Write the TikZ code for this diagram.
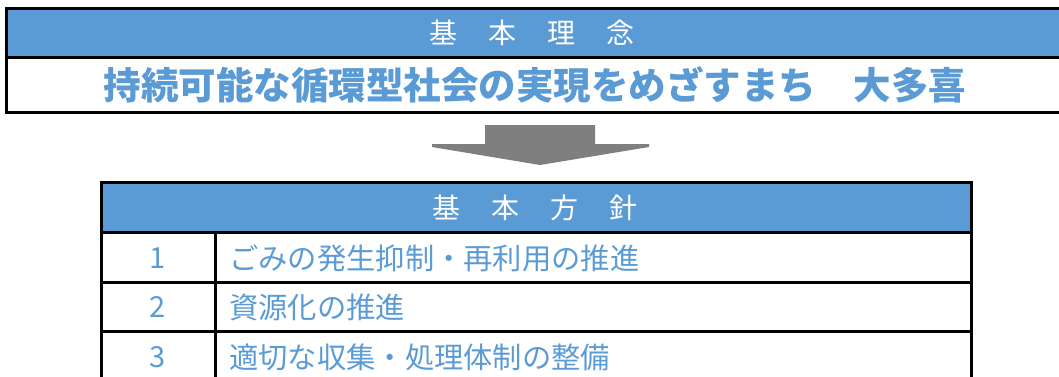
\documentclass[tikz,border=0pt]{standalone}
\usepackage{fontspec}
\setmainfont{Noto Sans CJK JP}
\newfontfamily\jpfont{Noto Sans CJK JP}
\definecolor{hdrblue}{HTML}{5B9BD5}
\definecolor{txtblue}{HTML}{5B9BD5}
\definecolor{arrgray}{HTML}{7F7F7F}
\begin{document}
\begin{tikzpicture}[x=1pt,y=-1pt,
  frame/.style={line width=3pt,draw=black},
  hdrtext/.style={text=white,inner sep=0pt,font=\jpfont\fontsize{28}{30}\selectfont},
  titletext/.style={text=txtblue,inner sep=0pt,font=\jpfont\bfseries\fontsize{37.5}{40}\selectfont},
  rowtext/.style={text=txtblue,inner sep=0pt,anchor=west,font=\jpfont\fontsize{29.3}{32}\selectfont},
  numtext/.style={text=txtblue,inner sep=0pt,font=\jpfont\fontsize{29}{32}\selectfont}]
\useasboundingbox (0,0) rectangle (1059,376);
% top box
\fill[hdrblue] (6,8) rectangle (1100,57);
\draw[frame] (6,8) rectangle (1100,112);
\draw[frame] (6,57) -- (1100,57);
\node[hdrtext] (h1) at (532,33) {基\hspace{31pt}本\hspace{31pt}理\hspace{31pt}念};
\node[titletext] (title) at (535,85) {持続可能な循環型社会の実現をめざすまち　大多喜};
% arrow
\fill[arrgray] (485,125) -- (595,125) -- (595,144) -- (649,144) -- (649,147) -- (540,165) -- (432,147) -- (432,144) -- (485,144) -- cycle;
% table
\fill[hdrblue] (101,182) rectangle (971,232);
\draw[frame] (101,182) rectangle (971,381);
\draw[frame] (101,232) -- (971,232);
\draw[frame] (101,282) -- (971,282);
\draw[frame] (101,331) -- (971,331);
\draw[frame] (215,232) -- (215,381);
\node[hdrtext] (h2) at (535,208) {基\hspace{31pt}本\hspace{31pt}方\hspace{31pt}針};
\node[numtext] (n1) at (158,258) {1};
\node[numtext] (n2) at (158,307) {2};
\node[numtext] (n3) at (158,357) {3};
\node[rowtext] (r1) at (229,258) {ごみの発生抑制・再利用の推進};
\node[rowtext] (r2) at (229,307) {資源化の推進};
\node[rowtext] (r3) at (229,357) {適切な収集・処理体制の整備};
\end{tikzpicture}
\end{document}
